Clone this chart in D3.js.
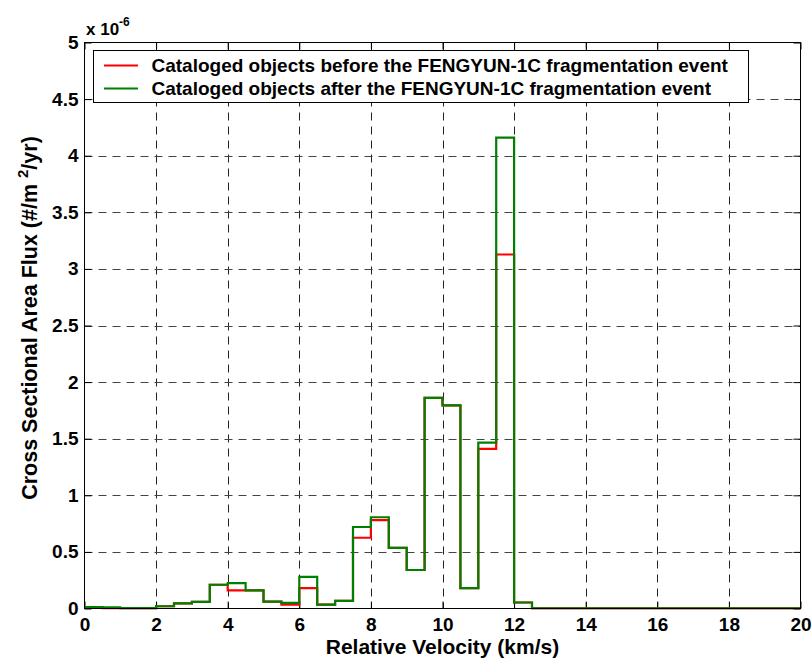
<!DOCTYPE html>
<html><head><meta charset="utf-8">
<script src="https://cdn.jsdelivr.net/npm/d3@7/dist/d3.min.js"></script>
<style>
body{margin:0;background:#fff;}
svg{display:block;font-family:"Liberation Sans",Arial,Helvetica,sans-serif;font-weight:bold;}
</style></head>
<body><svg id="chart" width="812" height="660"></svg>
<script>
// Bin left edges (km/s)
const binStarts = [0,0.5,1,1.5,2,2.5,3,3.5,4,4.5,5,5.5,6,6.5,7,7.5,8,8.5,9,9.5,10,10.5,11,11.5,12,12.5,13,13.5,14,14.5,15,15.5,16,16.5,17,17.5,18,18.5,19,19.5];
const binEnd = 20;
// Flux values in units of 1e-6 #/m^2/yr
const fluxBefore = [0.012,0.002,0.003,0.003,0.020,0.045,0.058,0.210,0.160,0.160,0.060,0.035,0.180,0.035,0.067,0.625,0.780,0.535,0.340,1.860,1.795,0.180,1.410,3.127,0.053,0.002,0.002,0.002,0.002,0.002,0.002,0.002,0.002,0.002,0.002,0.002,0.002,0.002,0.002,0.002];
const fluxAfter  = [0.012,0.010,0.003,0.003,0.020,0.045,0.058,0.210,0.225,0.160,0.060,0.050,0.280,0.035,0.067,0.720,0.806,0.535,0.340,1.860,1.795,0.180,1.465,4.160,0.053,0.002,0.002,0.002,0.002,0.002,0.002,0.002,0.002,0.002,0.002,0.002,0.002,0.002,0.002,0.002];
const xTicks = [0,2,4,6,8,10,12,14,16,18,20];
const yTicks = [0,0.5,1,1.5,2,2.5,3,3.5,4,4.5,5];
const legendLabels = ["Cataloged objects before the FENGYUN-1C fragmentation event","Cataloged objects after the FENGYUN-1C fragmentation event"];
const seriesColors = ["#ff0000","#008000"];

const svg = d3.select("#chart");
const L = 84.5, R = 800.5, T = 42.5, B = 608.5;
const x = d3.scaleLinear().domain([0,20]).range([L,R]);
const y = d3.scaleLinear().domain([0,5]).range([B,T]);

// grid
const g = svg.append("g");
g.selectAll(".vg").data(xTicks.slice(1,-1)).join("line")
  .attr("x1",d=>Math.round(x(d))+0.5).attr("x2",d=>Math.round(x(d))+0.5)
  .attr("y1",T).attr("y2",B)
  .attr("stroke","#222").attr("stroke-width",1).attr("stroke-dasharray","8,6");
g.selectAll(".hg").data(yTicks.slice(1,-1)).join("line")
  .attr("y1",d=>Math.round(y(d))+0.5).attr("y2",d=>Math.round(y(d))+0.5)
  .attr("x1",L).attr("x2",R)
  .attr("stroke","#444").attr("stroke-width",1).attr("stroke-dasharray","8,6");

// axes with inward ticks
const fs = 19;
const xAxisB = d3.axisBottom(x).tickValues(xTicks).tickSize(-7).tickPadding(9).tickFormat(d3.format("d"));
const xAxisT = d3.axisTop(x).tickValues(xTicks).tickSize(-7).tickFormat("");
const yAxisL = d3.axisLeft(y).tickValues(yTicks).tickSize(-7).tickPadding(6).tickFormat(d=>String(d));
const yAxisR = d3.axisRight(y).tickValues(yTicks).tickSize(-7).tickFormat("");
function style(sel){
  sel.select(".domain").remove();
  sel.selectAll("line").attr("stroke","#000").attr("stroke-width",1);
  sel.selectAll("text").attr("fill","#000").style("font-size",fs+"px").style("font-weight","bold").style("font-family",'"Liberation Sans",Arial,sans-serif');
}
svg.append("g").attr("transform",`translate(0,${B})`).call(xAxisB).call(style);
svg.append("g").attr("transform",`translate(0,${T})`).call(xAxisT).call(style);
svg.append("g").attr("transform",`translate(${L},0)`).call(yAxisL).call(style);
svg.append("g").attr("transform",`translate(${R},0)`).call(yAxisR).call(style);

// data lines
const line = d3.line().x(d=>x(d[0])).y(d=>y(d[1])).curve(d3.curveStepAfter);
[fluxBefore, fluxAfter].forEach((vals,i)=>{
  const pts = binStarts.map((b,j)=>[b,vals[j]]);
  pts.push([binEnd, vals[vals.length-1]]);
  svg.append("path").datum(pts).attr("d",line)
    .attr("fill","none").attr("stroke",seriesColors[i]).attr("stroke-width",2.2)
    .attr("stroke-linejoin","miter");
});

// frame
svg.append("rect").attr("x",L).attr("y",T).attr("width",R-L).attr("height",B-T)
  .attr("fill","none").attr("stroke","#000").attr("stroke-width",1);

// legend
const lg = svg.append("g");
lg.append("rect").attr("x",93.5).attr("y",50.5).attr("width",655).attr("height",52)
  .attr("fill","#fff").attr("stroke","#000").attr("stroke-width",1);
legendLabels.forEach((t,i)=>{
  const yy = 65.5 + i*23;
  lg.append("line").attr("x1",104).attr("x2",138).attr("y1",yy).attr("y2",yy)
    .attr("stroke",seriesColors[i]).attr("stroke-width",2.2);
  lg.append("text").attr("x",151.5).attr("y",yy+6).text(t)
    .style("font-size","19px").attr("fill","#000");
});

// exponent label
const ex = svg.append("text").attr("x",86).attr("y",34.5).style("font-size","17px").attr("fill","#000");
ex.append("tspan").text("x 10");
ex.append("tspan").attr("dy",-9).style("font-size","12px").text("-6");

// axis titles
svg.append("text").attr("x",(L+R)/2).attr("y",654).attr("text-anchor","middle")
  .style("font-size","21px").attr("fill","#000").text("Relative Velocity (km/s)");
const yt = svg.append("text").attr("transform","translate(37,318) rotate(-90)").attr("text-anchor","middle")
  .style("font-size","21.5px").attr("fill","#000");
yt.append("tspan").text("Cross Sectional Area Flux (#/m ");
yt.append("tspan").attr("dy",-9).style("font-size","15px").text("2");
yt.append("tspan").attr("dy",9).text("/yr)");
</script></body></html>
